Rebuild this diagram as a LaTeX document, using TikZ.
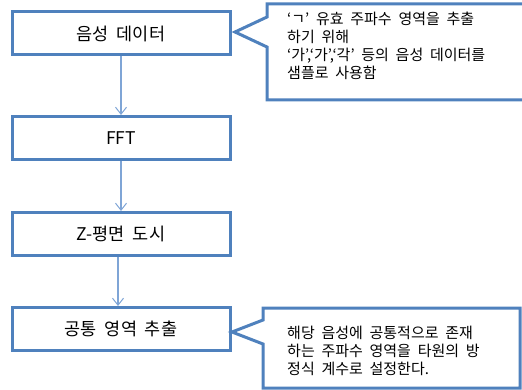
\documentclass[tikz,border=0pt]{standalone}
\usepackage{fontspec}
\setmainfont{Noto Sans CJK KR}[WordSpace=2]
\usetikzlibrary{arrows.meta}
\definecolor{boxblue}{HTML}{4F81BD}
\definecolor{arrowblue}{HTML}{7FA5D6}
\tikzset{
  stepbox/.style={draw=boxblue, line width=3pt, fill=white, minimum width=218pt, minimum height=43pt, font=\fontsize{17.5}{20}\selectfont, inner sep=0pt},
  flow/.style={draw=arrowblue, line width=1.3pt, -{Straight Barb[length=7pt,width=11pt,line width=1pt]}},
  callout/.style={draw=boxblue, line width=3pt, fill=white, line join=miter},
  notetext/.style={anchor=north west, align=left, font=\fontsize{15}{18}\selectfont, inner sep=0pt}
}
\begin{document}
\begin{tikzpicture}[x=1pt,y=-1pt]
\useasboundingbox (0,0) rectangle (522,390);
\node[stepbox] (s1) at (121,33.5) {음성 데이터};
\node[stepbox] (s2) at (121,138) {FFT};
\node[stepbox] (s3) at (121,234) {Z-평면 도시};
\node[stepbox] (s4) at (121,329) {공통 영역 추출};
\draw[flow] (s1.south) -- (s2.north);
\draw[flow] (s2.south) -- (s3.north);
\draw[flow] ([xshift=-3pt]s3.south) -- ([xshift=-3pt]s4.north);
\coordinate (t1) at (235,32);
\coordinate (t2) at (232,332);
\draw[callout] (267,4) -- (267,17) -- (t1) -- (267,47) -- (267,100) -- (526,100) -- (526,4) -- cycle;
\draw[callout] (263,308) -- (263,320) -- (t2) -- (263,344) -- (263,388) -- (520,388) -- (520,308) -- cycle;
\node[notetext] (n1) at (287,12) {‘ㄱ’ 유효 주파수 영역을 추출\\하기 위해\\‘가’,‘가’,‘각’ 등의 음성 데이터를\\샘플로 사용함};
\node[notetext] (n2) at (287,326) {해당 음성에 공통적으로 존재\\하는 주파수 영역을 타원의 방\\정식 계수로 설정한다.};
\end{tikzpicture}
\end{document}
